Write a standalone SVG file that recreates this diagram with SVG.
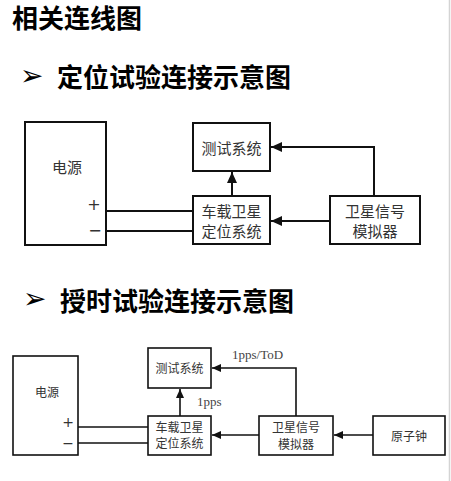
<svg xmlns="http://www.w3.org/2000/svg" width="451" height="481" viewBox="0 0 451 481">
<defs>
<style>
.title{font-family:"Noto Sans CJK SC","Noto Sans",sans-serif;font-weight:bold;font-size:26px;fill:#000}
.bullet{font-family:"DejaVu Sans",sans-serif;font-size:28px;fill:#000}
.box{fill:#fff;stroke:#111;stroke-width:2}
.box2{fill:#fff;stroke:#111;stroke-width:1.6}
.t1{font-family:"Noto Sans CJK SC",sans-serif;font-size:15px;fill:#333;text-anchor:middle}
.t2{font-family:"Noto Sans CJK SC",sans-serif;font-size:12px;fill:#333;text-anchor:middle}
.pm{font-family:"DejaVu Sans",sans-serif;fill:#333;text-anchor:middle}
.lbl{font-family:"Liberation Serif",serif;font-size:13px;fill:#444}
.ln{fill:none;stroke:#111;stroke-width:2}
.ln2{fill:none;stroke:#111;stroke-width:1.6}
</style>
<marker id="ah" markerUnits="userSpaceOnUse" markerWidth="12" markerHeight="10" refX="11" refY="5" orient="auto">
<path d="M0,0 L11,5 L0,10 Z" fill="#111"/>
</marker>
<marker id="ah2" markerUnits="userSpaceOnUse" markerWidth="10" markerHeight="8" refX="9" refY="4" orient="auto">
<path d="M0,0 L9,4 L0,8 Z" fill="#111"/>
</marker>
</defs>
<rect x="0" y="0" width="451" height="481" fill="#fff"/>
<line x1="449.5" y1="0" x2="449.5" y2="481" stroke="#d4d4d4" stroke-width="1.5"/>

<text class="title" x="12" y="28">相关连线图</text>
<text class="bullet" x="20" y="85">➢</text>
<text class="title" x="57" y="87">定位试验连接示意图</text>
<text class="bullet" x="23" y="308">➢</text>
<text class="title" x="60" y="311">授时试验连接示意图</text>

<!-- Diagram 1 -->
<g id="conn1">
<line class="ln" x1="106" y1="211" x2="193" y2="211"/>
<line class="ln" x1="106" y1="231" x2="193" y2="231"/>
<line class="ln" x1="232" y1="196" x2="232" y2="172" marker-end="url(#ah)"/>
<polyline class="ln" points="374,196 374,147 271,147" marker-end="url(#ah)"/>
<line class="ln" x1="330" y1="221" x2="271" y2="221" marker-end="url(#ah)"/>
</g>
<g id="power1">
<rect class="box" x="25" y="122" width="81" height="123"/>
<text class="t1" x="67" y="173">电源</text>
<text class="pm" x="94" y="210" font-size="16">+</text>
<text class="pm" x="95" y="236" font-size="16">−</text>
</g>
<g id="test1">
<rect class="box" x="193" y="123" width="77" height="48"/>
<text class="t1" x="231.5" y="154">测试系统</text>
</g>
<g id="gnss1">
<rect class="box" x="193" y="196" width="77" height="48"/>
<text class="t1" x="231.5" y="217">车载卫星</text>
<text class="t1" x="231.5" y="237">定位系统</text>
</g>
<g id="sim1">
<rect class="box" x="330" y="196" width="90" height="48"/>
<text class="t1" x="375" y="217">卫星信号</text>
<text class="t1" x="375" y="237">模拟器</text>
</g>

<!-- Diagram 2 -->
<g id="conn2">
<line class="ln2" x1="78" y1="427" x2="148" y2="427"/>
<line class="ln2" x1="78" y1="443" x2="148" y2="443"/>
<line class="ln2" x1="180" y1="416" x2="180" y2="389" marker-end="url(#ah2)"/>
<polyline class="ln2" points="296,416 296,368 212,368" marker-end="url(#ah2)"/>
<line class="ln2" x1="259" y1="435" x2="212" y2="435" marker-end="url(#ah2)"/>
<line class="ln2" x1="373" y1="435" x2="334" y2="435" marker-end="url(#ah2)"/>
<text class="lbl" x="197" y="406">1pps</text>
<text class="lbl" x="232" y="359">1pps/ToD</text>
</g>
<g id="power2">
<rect class="box2" x="13" y="356" width="65" height="99"/>
<text class="t2" x="47" y="397">电源</text>
<text class="pm" x="68" y="427" font-size="14">+</text>
<text class="pm" x="68" y="448" font-size="14">−</text>
</g>
<g id="test2">
<rect class="box2" x="148" y="348" width="63" height="40"/>
<text class="t2" x="179.5" y="373">测试系统</text>
</g>
<g id="gnss2">
<rect class="box2" x="148" y="416" width="63" height="39"/>
<text class="t2" x="179.5" y="432">车载卫星</text>
<text class="t2" x="179.5" y="448">定位系统</text>
</g>
<g id="sim2">
<rect class="box2" x="259" y="416" width="74" height="39"/>
<text class="t2" x="296" y="432">卫星信号</text>
<text class="t2" x="296" y="449">模拟器</text>
</g>
<g id="clock2">
<rect class="box2" x="373" y="416" width="72" height="39"/>
<text class="t2" x="409" y="441">原子钟</text>
</g>
</svg>
